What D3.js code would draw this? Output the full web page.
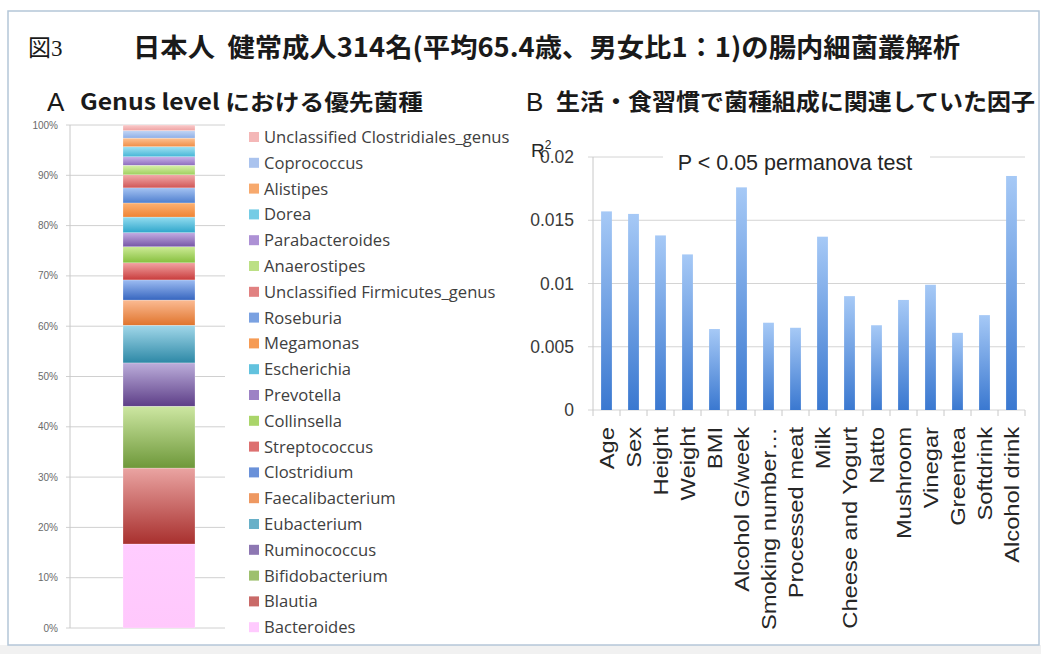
<!DOCTYPE html>
<html>
<head>
<meta charset="utf-8">
<script src="https://cdn.jsdelivr.net/npm/d3@7"></script>
<style>
  html, body { margin: 0; padding: 0; background: #ffffff; }
  svg { display: block; }
  .keep-space { white-space: pre; }
</style>
</head>
<body>
<svg id="fig" width="1041" height="654"></svg>
<script>
// Genus-level composition (percent of reads), bottom of the stack first
const genera = [
  "Bacteroides", "Blautia", "Bifidobacterium", "Ruminococcus", "Eubacterium",
  "Faecalibacterium", "Clostridium", "Streptococcus", "Collinsella", "Prevotella",
  "Escherichia", "Megamonas", "Roseburia", "Unclassified Firmicutes_genus",
  "Anaerostipes", "Parabacteroides", "Dorea", "Alistipes", "Coprococcus",
  "Unclassified Clostridiales_genus"
];
const abundance = [16.7, 15.1, 12.3, 8.6, 7.5, 5.0, 4.0, 3.4, 3.2, 2.8,
                   3.1, 2.8, 3.0, 2.6, 1.9, 1.7, 2.0, 1.7, 1.5, 1.1];
// gradient colours per genus: [top, bottom]
const genusColors = [
  ["#ffccff", "#ffc8fc"], ["#eaa4a2", "#a8302e"], ["#cde7a2", "#6e983a"],
  ["#bcaedb", "#5e3f88"], ["#a2d8ea", "#2d88a6"], ["#fbbb93", "#e0752e"],
  ["#9dbcf2", "#3766bf"], ["#f2a3a3", "#c83c3c"], ["#cdeb96", "#86bf3e"],
  ["#c4ade3", "#7656a6"], ["#94ddf0", "#2fa6cb"], ["#fcb274", "#f08434"],
  ["#a5c3f2", "#4f7fcf"], ["#f2abab", "#d05656"], ["#d9f1ab", "#9fcf5e"],
  ["#cbb4ea", "#8e6ebf"], ["#a3e2f2", "#46b6d7"], ["#fdc394", "#f08e46"],
  ["#c4d7f5", "#8fafe7"], ["#f9cccc", "#efa2a2"]
];
const pctTicks = [0, 10, 20, 30, 40, 50, 60, 70, 80, 90, 100];

// Lifestyle / dietary factors associated with community composition
const factors = ["Age", "Sex", "Height", "Weight", "BMI", "Alcohol G/week",
  "Smoking number\u2026", "Processed meat", "Milk", "Cheese and Yogurt", "Natto",
  "Mushroom", "Vinegar", "Greentea", "Softdrink", "Alcohol drink"];
const r2 = [0.0157, 0.0155, 0.0138, 0.0123, 0.0064, 0.0176, 0.0069, 0.0065,
            0.0137, 0.0090, 0.0067, 0.0087, 0.0099, 0.0061, 0.0075, 0.0185];
const r2Ticks = [0, 0.005, 0.01, 0.015, 0.02];

const svg = d3.select("#fig");
const defs = svg.append("defs");

// page frame
svg.append("rect").attr("x", 0).attr("y", 645).attr("width", 1041).attr("height", 9)
  .attr("fill", "#f1f1f1");
svg.append("rect").attr("x", 8).attr("y", 11).attr("width", 1031).attr("height", 634)
  .attr("fill", "#ffffff").attr("stroke", "#b4c6d8").attr("stroke-width", 1.5);

// titles
const title = svg.append("text").attr("x", 28).attr("y", 56).attr("fill", "#1a1a1a");
title.append("tspan").attr("font-family", "'Noto Sans CJK JP'").attr("font-size", 23)
  .text("図");
title.append("tspan").attr("font-family", "'Liberation Serif'").attr("font-size", 23)
  .text("3");
svg.append("text").attr("class", "keep-space").attr("x", 133).attr("y", 57)
  .attr("font-family", "'Noto Sans CJK JP'").attr("font-size", 26.5).attr("font-weight", 700)
  .attr("fill", "#1a1a1a")
  .attr("textLength", 827).attr("lengthAdjust", "spacingAndGlyphs")
  .text("日本人  健常成人314名(平均65.4歳、男女比1：1)の腸内細菌叢解析");

svg.append("text").attr("x", 47).attr("y", 111).attr("fill", "#1a1a1a")
  .attr("font-family", "'Liberation Sans'").attr("font-size", 26).text("A");
svg.append("text").attr("x", 80).attr("y", 110).attr("fill", "#1a1a1a")
  .attr("font-family", "'Noto Sans CJK JP'").attr("font-size", 22).attr("font-weight", 700)
  .attr("textLength", 343).attr("lengthAdjust", "spacingAndGlyphs")
  .text("Genus level における優先菌種");

svg.append("text").attr("x", 526).attr("y", 111).attr("fill", "#1a1a1a")
  .attr("font-family", "'Liberation Sans'").attr("font-size", 26).text("B");
svg.append("text").attr("x", 556).attr("y", 110).attr("fill", "#1a1a1a")
  .attr("font-family", "'Noto Sans CJK JP'").attr("font-size", 23).attr("font-weight", 700)
  .attr("textLength", 479).attr("lengthAdjust", "spacingAndGlyphs")
  .text("生活・食習慣で菌種組成に関連していた因子");

// ---------- Panel A: stacked composition bar ----------
const yA = d3.scaleLinear().domain([0, 100]).range([628, 125]);
const barX0 = 123, barX1 = 195;

const gA = svg.append("g");
gA.selectAll("line.grid").data(pctTicks).join("line")
  .attr("x1", 66).attr("x2", 225)
  .attr("y1", d => yA(d)).attr("y2", d => yA(d))
  .attr("stroke", "#d0d0d0").attr("stroke-width", 1);
gA.append("line").attr("x1", 70).attr("x2", 70).attr("y1", yA(0)).attr("y2", yA(100))
  .attr("stroke", "#c8c8c8");
gA.selectAll("text.tick").data(pctTicks).join("text")
  .attr("x", 58).attr("y", d => yA(d) + 3.5).attr("text-anchor", "end")
  .attr("font-family", "'Liberation Sans'").attr("font-size", 10).attr("fill", "#6a6a6a")
  .text(d => d + "%");

const stacked = [];
let acc = 0;
abundance.forEach((v, i) => { stacked.push({ name: genera[i], lo: acc, hi: acc + v, i }); acc += v; });

genusColors.forEach((c, i) => {
  const g = defs.append("linearGradient").attr("id", "gA" + i)
    .attr("x1", 0).attr("y1", 0).attr("x2", 0).attr("y2", 1);
  g.append("stop").attr("offset", "0%").attr("stop-color", c[0]);
  g.append("stop").attr("offset", "100%").attr("stop-color", c[1]);
});

gA.selectAll("rect.seg").data(stacked).join("rect")
  .attr("x", barX0).attr("width", barX1 - barX0)
  .attr("y", d => yA(d.hi)).attr("height", d => yA(d.lo) - yA(d.hi))
  .attr("fill", d => `url(#gA${d.i})`)
  .attr("stroke", "#ffffff").attr("stroke-width", 0.4).attr("stroke-opacity", 0.6);

// legend, top entry is the top of the stack
const legendItems = stacked.slice().reverse();
const lg = svg.append("g");
legendItems.forEach((d, k) => {
  const cy = 137 + k * 25.8;
  lg.append("rect").attr("x", 249).attr("y", cy - 5).attr("width", 10).attr("height", 10)
    .attr("fill", d3.interpolateRgb(genusColors[d.i][0], genusColors[d.i][1])(0.5));
  lg.append("text").attr("x", 264).attr("y", cy + 6)
    .attr("font-family", "'Open Sans'").attr("font-size", 16.6).attr("fill", "#404040")
    .text(d.name);
});

// ---------- Panel B: R² bar chart ----------
const x = d3.scaleBand().domain(factors).range([593, 1025])
  .paddingInner(0.6).paddingOuter(0.3);
const y = d3.scaleLinear().domain([0, 0.02]).range([410, 157]);

const gB = svg.append("g");
gB.selectAll("line.grid").data(r2Ticks).join("line")
  .attr("x1", 588).attr("x2", 1025)
  .attr("y1", d => y(d)).attr("y2", d => y(d))
  .attr("stroke", "#d4d4d4");
gB.append("line").attr("x1", 593).attr("x2", 593).attr("y1", y(0)).attr("y2", y(0.02))
  .attr("stroke", "#c8c8c8");

const fmt = d => d === 0 ? "0" : String(+d.toFixed(3));
gB.selectAll("text.ytick").data(r2Ticks).join("text")
  .attr("x", 574).attr("y", d => y(d) + 6).attr("text-anchor", "end")
  .attr("font-family", "'Liberation Sans'").attr("font-size", 17.5).attr("fill", "#3a3a3a")
  .text(fmt);

// category separators under the baseline
const span = (x.range()[1] - x.range()[0]) / factors.length;
const seps = d3.range(factors.length + 1).map(i => x.range()[0] + i * span);
gB.selectAll("line.sep").data(seps).join("line")
  .attr("x1", d => d).attr("x2", d => d).attr("y1", y(0)).attr("y2", y(0) + 6)
  .attr("stroke", "#c8c8c8");

const bg = defs.append("linearGradient").attr("id", "gB")
  .attr("x1", 0).attr("y1", 0).attr("x2", 0).attr("y2", 1);
bg.append("stop").attr("offset", "0%").attr("stop-color", "#a6c9f6");
bg.append("stop").attr("offset", "100%").attr("stop-color", "#3a78d0");

gB.selectAll("rect.bar").data(factors).join("rect")
  .attr("x", d => x(d)).attr("width", x.bandwidth())
  .attr("y", (d, i) => y(r2[i])).attr("height", (d, i) => y(0) - y(r2[i]))
  .attr("fill", "url(#gB)");

gB.selectAll("text.xlab").data(factors).join("text")
  .attr("transform", d => `translate(${x(d) + x.bandwidth() / 2 + 7},${y(0) + 17}) rotate(-90) scale(1.13,1)`)
  .attr("text-anchor", "end")
  .attr("font-family", "'Liberation Sans'").attr("font-size", 21).attr("fill", "#262626")
  .text(d => d);

// test annotation over the top gridline
gB.append("rect").attr("x", 663).attr("y", 150).attr("width", 267).attr("height", 16)
  .attr("fill", "#ffffff");
gB.append("text").attr("x", 795).attr("y", 170).attr("text-anchor", "middle")
  .attr("font-family", "'Liberation Sans'").attr("font-size", 21.5).attr("fill", "#262626")
  .text("P < 0.05 permanova test");

const r2lab = gB.append("text").attr("x", 531).attr("y", 157)
  .attr("font-family", "'Liberation Sans'").attr("font-size", 19).attr("fill", "#262626");
r2lab.append("tspan").text("R");
r2lab.append("tspan").attr("font-size", 12).attr("dy", -8).text("2");
</script>
</body>
</html>
